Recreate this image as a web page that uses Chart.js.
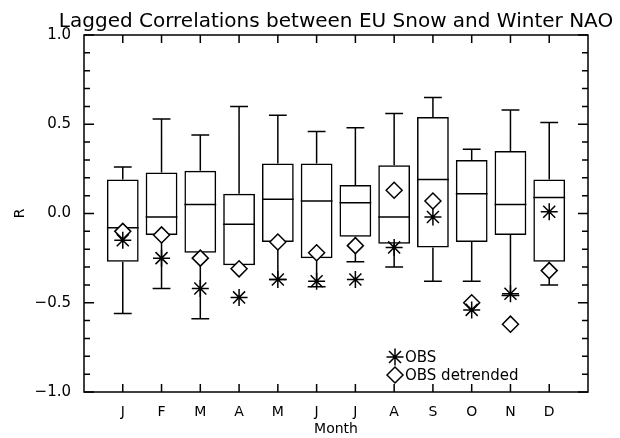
<!DOCTYPE html>
<html>
<head>
<meta charset="utf-8">
<title>Lagged Correlations between EU Snow and Winter NAO</title>
<script src="https://cdn.jsdelivr.net/npm/chart.js@4.4.1/dist/chart.umd.min.js"></script>
<style>
html, body { margin: 0; padding: 0; background: #fff; }
</style>
</head>
<body>
<canvas id="naoChart" width="620" height="438"></canvas>
<script>

// values
const chartTitle = "Lagged Correlations between EU Snow and Winter NAO";

const months = ["J", "F", "M", "A", "M", "J", "J", "A", "S", "O", "N", "D"];

const whiskerHigh = [0.26, 0.53, 0.44, 0.60, 0.55, 0.46, 0.48, 0.56, 0.65, 0.36, 0.58, 0.51];
const boxHigh     = [0.19, 0.23, 0.24, 0.11, 0.28, 0.28, 0.16, 0.27, 0.54, 0.30, 0.35, 0.19];
const medians     = [-0.08, -0.02, 0.05, -0.06, 0.08, 0.07, 0.06, -0.02, 0.19, 0.11, 0.05, 0.09];
const boxLow      = [-0.27, -0.12, -0.22, -0.29, -0.16, -0.25, -0.13, -0.17, -0.19, -0.16, -0.12, -0.27];
const whiskerLow  = [-0.56, -0.42, -0.59, -0.29, -0.37, -0.41, -0.27, -0.30, -0.38, -0.38, -0.46, -0.40];

const obs          = [-0.15, -0.25, -0.42, -0.47, -0.37, -0.38, -0.37, -0.19, -0.02, -0.54, -0.45, 0.01];
const obsDetrended = [-0.10, -0.12, -0.25, -0.31, -0.16, -0.22, -0.18, 0.13, 0.07, -0.50, -0.62, -0.32];

const yTicks = [-1.0, -0.5, 0.0, 0.5, 1.0];

const ink = "#000";
const font = "'DejaVu Sans', Verdana, sans-serif";


// whiskers + medians, drawn under the markers
const boxParts = {
    id: "boxParts",
    beforeDatasetsDraw(chart) {
        const ctx = chart.ctx;
        const x = chart.scales.x;
        const y = chart.scales.y;
        const capHalf = x.getPixelForValue(0.23) - x.getPixelForValue(0);
        const boxHalf = x.getPixelForValue(0.41) - x.getPixelForValue(0);

        ctx.save();
        ctx.strokeStyle = ink;
        ctx.lineWidth = 1.5;
        ctx.beginPath();

        months.forEach((m, i) => {
            const px = x.getPixelForValue(i + 1);
            const top = y.getPixelForValue(whiskerHigh[i]);
            const bot = y.getPixelForValue(whiskerLow[i]);

            ctx.moveTo(px, y.getPixelForValue(boxHigh[i]));
            ctx.lineTo(px, top);
            ctx.moveTo(px - capHalf, top);
            ctx.lineTo(px + capHalf, top);

            if (whiskerLow[i] < boxLow[i]) {
                ctx.moveTo(px, y.getPixelForValue(boxLow[i]));
                ctx.lineTo(px, bot);
                ctx.moveTo(px - capHalf, bot);
                ctx.lineTo(px + capHalf, bot);
            }

            const pm = y.getPixelForValue(medians[i]);
            ctx.moveTo(px - boxHalf, pm);
            ctx.lineTo(px + boxHalf, pm);
        });

        ctx.stroke();
        ctx.restore();
    }
};


// IDL style frame with inward ticks on all four sides, plus the title
const frame = {
    id: "frame",
    afterDraw(chart) {
        const ctx = chart.ctx;
        const a = chart.chartArea;
        const x = chart.scales.x;
        const y = chart.scales.y;

        ctx.save();
        ctx.strokeStyle = ink;
        ctx.lineWidth = 1.5;
        ctx.strokeRect(a.left, a.top, a.right - a.left, a.bottom - a.top);

        ctx.beginPath();
        for (let k = -10; k <= 10; k++) {
            const py = y.getPixelForValue(k / 10);
            const len = (k % 5 === 0) ? 10 : 6;
            ctx.moveTo(a.left, py);
            ctx.lineTo(a.left + len, py);
            ctx.moveTo(a.right, py);
            ctx.lineTo(a.right - len, py);
        }
        months.forEach((m, i) => {
            const px = x.getPixelForValue(i + 1);
            ctx.moveTo(px, a.top);
            ctx.lineTo(px, a.top + 8);
            ctx.moveTo(px, a.bottom);
            ctx.lineTo(px, a.bottom - 8);
        });
        ctx.stroke();

        // title centred over the plot box
        ctx.fillStyle = ink;
        ctx.font = "20px " + font;
        ctx.textAlign = "center";
        ctx.textBaseline = "alphabetic";
        ctx.fillText(chartTitle, (a.left + a.right) / 2, a.top - 8.5);
        ctx.restore();
    }
};


// legend in the lower middle of the plot
const markerKey = {
    id: "markerKey",
    afterDatasetsDraw(chart) {
        const ctx = chart.ctx;
        const a = chart.chartArea;
        const rows = [chart.data.datasets[0], chart.data.datasets[1]];

        ctx.save();
        ctx.font = "15px " + font;
        ctx.textBaseline = "middle";

        rows.forEach((ds, r) => {
            const mx = a.left + 311;
            const my = a.top + 322 + r * 18;
            ctx.strokeStyle = ink;
            ctx.fillStyle = "#fff";
            ctx.lineWidth = 1.5;
            Chart.helpers.drawPoint(ctx, {
                pointStyle: ds.pointStyle,
                radius: ds.pointRadius,
                borderWidth: 1.5,
                rotation: 0
            }, mx, my);
            ctx.fillStyle = ink;
            ctx.fillText(ds.label, mx + 10, my + 1);
        });

        ctx.restore();
    }
};


const ctx = document.getElementById("naoChart");

new Chart(ctx, {

    type: "bar",

    data: {
        datasets: [
            {
                type: "scatter",
                label: "OBS",
                data: obs.map((v, i) => ({ x: i + 1, y: v })),
                pointStyle: "star",
                pointRadius: 8.5,
                pointBorderWidth: 1.5,
                borderColor: ink,
                backgroundColor: ink
            },
            {
                type: "scatter",
                label: "OBS detrended",
                data: obsDetrended.map((v, i) => ({ x: i + 1, y: v })),
                pointStyle: "rectRot",
                pointRadius: 8,
                pointBorderWidth: 1.5,
                borderColor: ink,
                backgroundColor: "#fff"
            },
            {
                type: "bar",
                label: "boxes",
                data: months.map((m, i) => ({ x: i + 1, y: [boxLow[i], boxHigh[i]] })),
                backgroundColor: "rgba(0,0,0,0)",
                borderColor: ink,
                borderWidth: 1.5,
                borderSkipped: false,
                categoryPercentage: 1,
                barPercentage: 0.82
            }
        ]
    },

    options: {
        responsive: false,
        animation: false,
        devicePixelRatio: 1,

        layout: {
            padding: { left: 12, right: 32, top: 35, bottom: 0 }
        },

        plugins: {
            legend: { display: false },
            tooltip: { enabled: false },
            title: { display: false }
        },

        scales: {
            x: {
                type: "linear",
                min: 0,
                max: 13,
                offset: false,
                grid: { display: false },
                border: { display: false },
                afterBuildTicks(scale) {
                    scale.ticks = months.map((m, i) => ({ value: i + 1 }));
                },
                afterFit(scale) {
                    scale.height = 46;
                },
                ticks: {
                    color: ink,
                    font: { family: font, size: 14 },
                    padding: 4,
                    maxRotation: 0,
                    autoSkip: false,
                    callback: (v) => months[v - 1]
                },
                title: {
                    display: true,
                    text: "Month",
                    color: ink,
                    font: { family: font, size: 14, lineHeight: 1.2 },
                    padding: { top: 0, bottom: 0 }
                }
            },
            y: {
                min: -1,
                max: 1,
                grid: { display: false },
                border: { display: false },
                afterBuildTicks(scale) {
                    scale.ticks = yTicks.map(v => ({ value: v }));
                },
                afterFit(scale) {
                    scale.width = 72;
                },
                ticks: {
                    color: ink,
                    font: { family: font, size: 15 },
                    padding: 5,
                    callback: (v) => (v < 0 ? "\u2212" + Math.abs(v).toFixed(1) : v.toFixed(1))
                },
                title: {
                    display: true,
                    text: "R",
                    color: ink,
                    font: { family: font, size: 14, lineHeight: 1.2 },
                    padding: { top: 0, bottom: 0 }
                }
            }
        }
    },

    plugins: [boxParts, frame, markerKey]
});

</script>
</body>
</html>
